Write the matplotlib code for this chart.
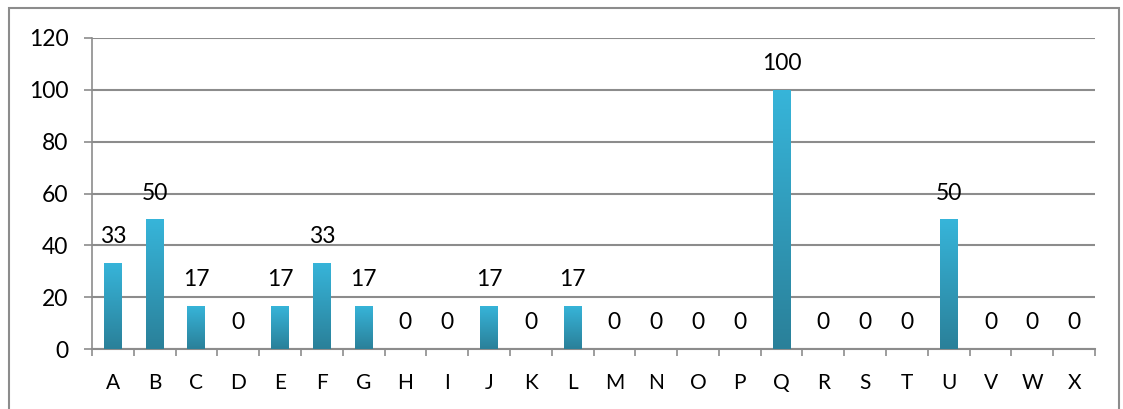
import numpy as np
import matplotlib
matplotlib.use("Agg")
import matplotlib.pyplot as plt
from matplotlib.colors import LinearSegmentedColormap
from matplotlib.patches import Rectangle

plt.rcParams["font.family"] = ["Lato", "DejaVu Sans"]

categories = list("ABCDEFGHIJKLMNOPQRSTUVWX")
values = [33.33, 50, 16.67, 0, 16.67, 33.33, 16.67, 0, 0, 16.67, 0, 16.67,
          0, 0, 0, 0, 100, 0, 0, 0, 50, 0, 0, 0]
labels = [str(int(round(v))) for v in values]

fig = plt.figure(figsize=(11.23, 4.09), dpi=100)
ax = fig.add_axes([92 / 1123, 1 - 349 / 409, (1095 - 92) / 1123, (349 - 38) / 409])

# chart border
fig.patches.append(Rectangle((9 / 1123, -0.05), (1119 - 9) / 1123, 1.05 - 8 / 409,
                             transform=fig.transFigure, fill=False,
                             edgecolor="#8c8c8c", linewidth=1.5))

x = np.arange(len(categories))
bars = ax.bar(x, values, width=0.43, color="#2f9cbd", zorder=3)

# vertical gradient on each bar, top light -> bottom dark
cmap = LinearSegmentedColormap.from_list("g", ["#2a8099", "#37b5da"])
grad = np.linspace(0, 1, 256).reshape(-1, 1)
for b in bars:
    if b.get_height() <= 0:
        continue
    x0, y0 = b.get_x(), b.get_y()
    im = ax.imshow(grad, cmap=cmap, origin="lower", aspect="auto", zorder=4,
                   extent=[x0, x0 + b.get_width(), y0, y0 + b.get_height()])
    im.set_clip_path(b)

for xi, v, lab in zip(x, values, labels):
    ax.annotate(lab, (xi, v), xytext=(0, 19), textcoords="offset points",
                ha="center", va="center", fontsize=16.5, color="black", zorder=5)

ax.set_xlim(-0.5, len(categories) - 0.5)
ax.set_ylim(0, 120)
ax.set_yticks(range(0, 121, 20))
ax.set_xticks(x)
ax.set_xticklabels(categories, fontsize=15)
ax.set_xticks(np.arange(-0.5, len(categories)), minor=True)
ax.tick_params(axis="x", which="major", length=0, pad=17)
ax.tick_params(axis="x", which="minor", length=5, width=1.2, color="#8c8c8c")
ax.tick_params(axis="y", length=6, width=1.2, color="#8c8c8c", labelsize=16.5, pad=11)

ax.grid(axis="y", color="#8c8c8c", linewidth=1.5, zorder=0)
for s in ["top", "right"]:
    ax.spines[s].set_visible(False)
ax.spines["left"].set_color("#8c8c8c")
ax.spines["bottom"].set_color("#8c8c8c")
ax.spines["left"].set_linewidth(1.2)
ax.spines["bottom"].set_linewidth(1.5)

fig.savefig("out.png", dpi=100)
